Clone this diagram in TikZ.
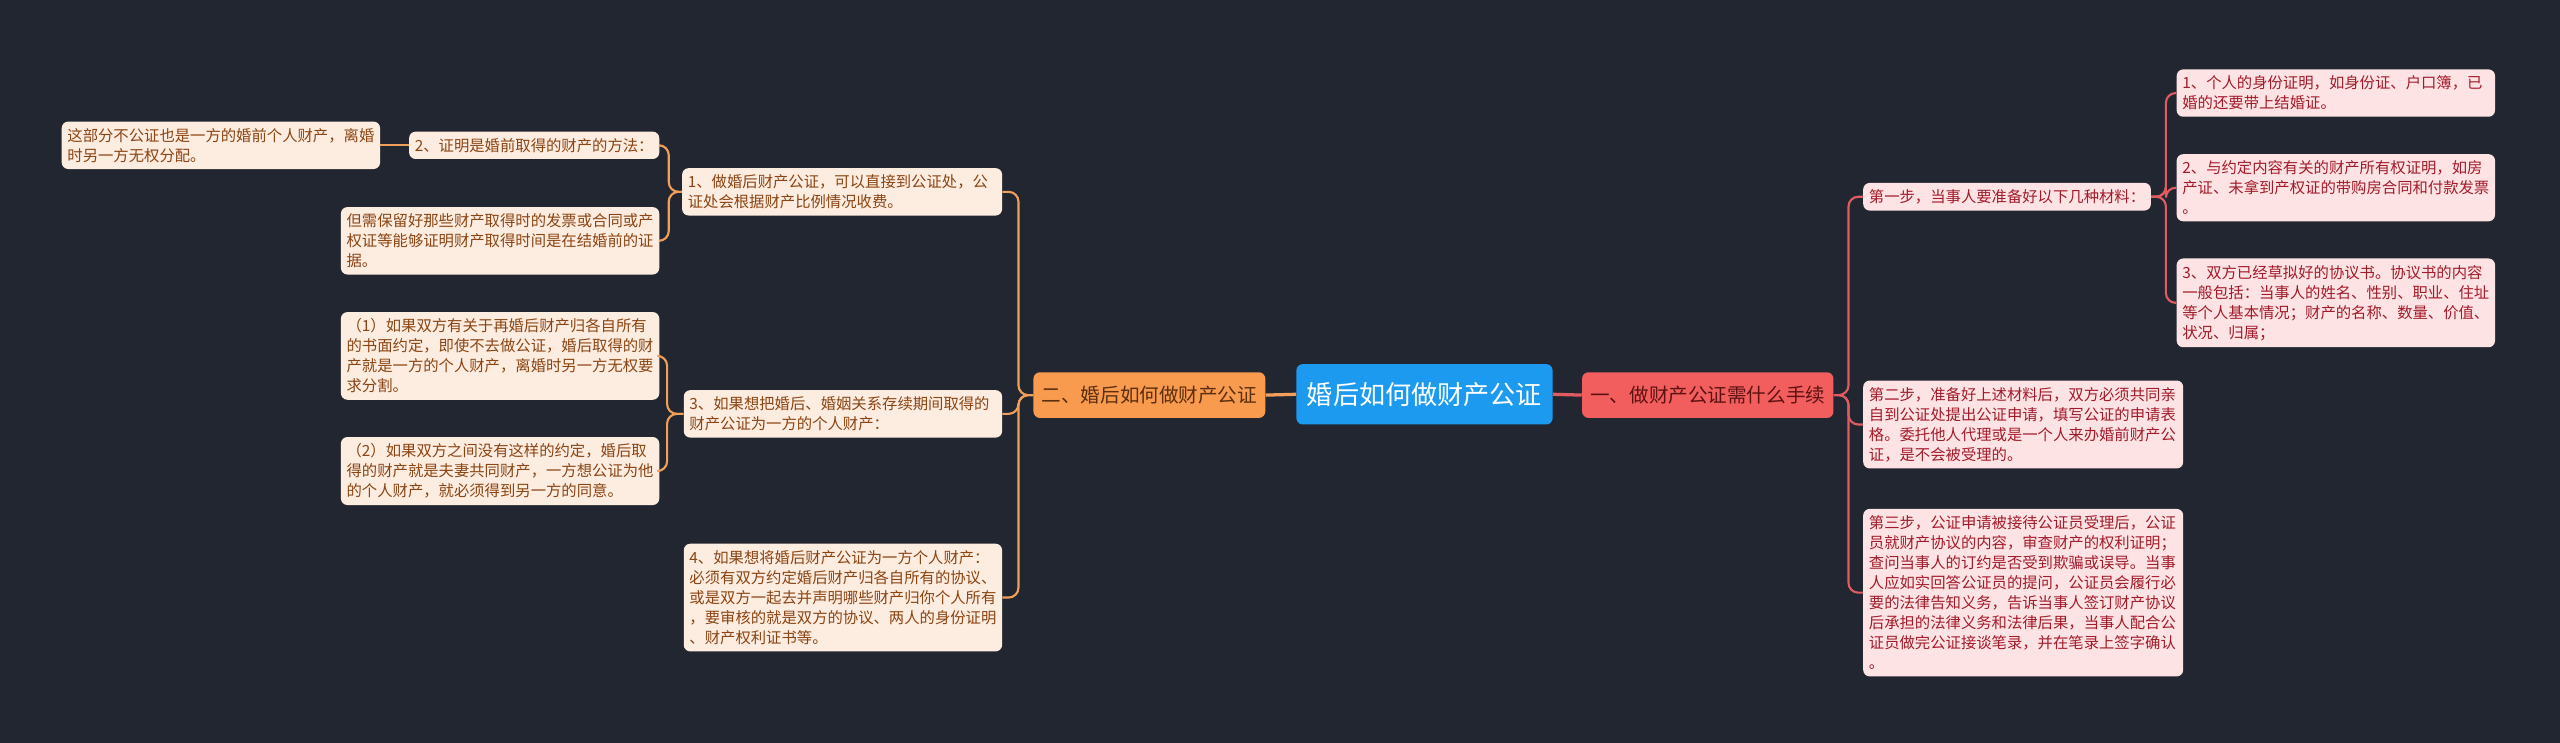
\documentclass[tikz,border=0pt]{standalone}
\usepackage{fontspec}
\newfontfamily\cjk{Noto Sans CJK SC}
\definecolor{bgc}{HTML}{222630}
\definecolor{bluec}{HTML}{1C9AF0}
\definecolor{redc}{HTML}{F25E5E}
\definecolor{redtxt}{HTML}{5E1111}
\definecolor{orangec}{HTML}{F99B4F}
\definecolor{orangetxt}{HTML}{5B2E0E}
\definecolor{pinkfill}{HTML}{FDE3E3}
\definecolor{pinktxt}{HTML}{A31B2A}
\definecolor{creamfill}{HTML}{FDECE0}
\definecolor{creamtxt}{HTML}{8B4513}
\definecolor{redln}{HTML}{E05B62}
\definecolor{orangeln}{HTML}{F0A05A}
\tikzset{
  smallfont/.style={font=\cjk\fontsize{9.4}{12.3}\selectfont},
  pinkbox/.style={smallfont, fill=pinkfill, text=pinktxt, rounded corners=4pt, inner xsep=3.5pt, inner ysep=4pt, align=left},
  creambox/.style={smallfont, fill=creamfill, text=creamtxt, rounded corners=4pt, inner xsep=3.5pt, inner ysep=4pt, align=left},
  mainbox/.style={font=\cjk\fontsize{12}{14}\selectfont, rounded corners=4pt, minimum height=28pt, inner sep=0pt},
  centerbox/.style={font=\cjk\fontsize{16}{19}\selectfont, fill=bluec, text=white, rounded corners=4pt, minimum width=157pt, minimum height=37pt, inner sep=0pt},
  redline/.style={draw=redln, line width=1.3pt, rounded corners=6pt},
  orangeline/.style={draw=orangeln, line width=1.3pt, rounded corners=6pt},
}
\begin{document}
\begin{tikzpicture}[x=1pt,y=-1pt]
\fill[bgc] (0,0) rectangle (1568,455);
\useasboundingbox (0,0) rectangle (1568,455);

% center and main branches
\node[centerbox] (c) at (872.5,241.5) {婚后如何做财产公证};
\node[mainbox, fill=redc, text=redtxt, minimum width=154pt] (rm) at (1046,242) {一、做财产公证需什么手续};
\node[mainbox, fill=orangec, text=orangetxt, minimum width=142pt] (lm) at (704,242) {二、婚后如何做财产公证};

% right side
\node[pinkbox, anchor=west] (r1) at (1141,120.5) {第一步，当事人要准备好以下几种材料：};
\node[pinkbox, anchor=west, text width=188pt] (r11) at (1333,57) {1、个人的身份证明，如身份证、户口簿，已\\婚的还要带上结婚证。};
\node[pinkbox, anchor=west, text width=188pt] (r12) at (1333,115) {2、与约定内容有关的财产所有权证明，如房\\产证、未拿到产权证的带购房合同和付款发票\\。};
\node[pinkbox, anchor=west, text width=188pt] (r13) at (1333,185.5) {3、双方已经草拟好的协议书。协议书的内容\\一般包括：当事人的姓名、性别、职业、住址\\等个人基本情况；财产的名称、数量、价值、\\状况、归属；};
\node[pinkbox, anchor=west, text width=189pt] (r2) at (1141,260) {第二步，准备好上述材料后，双方必须共同亲\\自到公证处提出公证申请，填写公证的申请表\\格。委托他人代理或是一个人来办婚前财产公\\证，是不会被受理的。};
\node[pinkbox, anchor=west, text width=189pt] (r3) at (1141,363) {第三步，公证申请被接待公证员受理后，公证\\员就财产协议的内容，审查财产的权利证明；\\查问当事人的订约是否受到欺骗或误导。当事\\人应如实回答公证员的提问，公证员会履行必\\要的法律告知义务，告诉当事人签订财产协议\\后承担的法律义务和法律后果，当事人配合公\\证员做完公证接谈笔录，并在笔录上签字确认\\。};

% left side
\node[creambox, anchor=east, text width=189pt] (d) at (614,117.5) {1、做婚后财产公证，可以直接到公证处，公\\证处会根据财产比例情况收费。};
\node[creambox, anchor=east, text width=188pt] (g) at (614,253.5) {3、如果想把婚后、婚姻关系存续期间取得的\\财产公证为一方的个人财产：};
\node[creambox, anchor=east, text width=188pt] (h) at (614,366) {4、如果想将婚后财产公证为一方个人财产：\\必须有双方约定婚后财产归各自所有的协议、\\或是双方一起去并声明哪些财产归你个人所有\\，要审核的就是双方的协议、两人的身份证明\\、财产权利证书等。};
\node[creambox, anchor=east] (b) at (404,89) {2、证明是婚前取得的财产的方法：};
\node[creambox, anchor=east, text width=188pt] (c2) at (404,147.5) {但需保留好那些财产取得时的发票或合同或产\\权证等能够证明财产取得时间是在结婚前的证\\据。};
\node[creambox, anchor=east, text width=188pt] (a) at (233,89) {这部分不公证也是一方的婚前个人财产，离婚\\时另一方无权分配。};
\node[creambox, anchor=east, text width=188pt] (e) at (404,218) {（1）如果双方有关于再婚后财产归各自所有\\的书面约定，即使不去做公证，婚后取得的财\\产就是一方的个人财产，离婚时另一方无权要\\求分割。};
\node[creambox, anchor=east, text width=188pt] (f) at (404,288.5) {（2）如果双方之间没有这样的约定，婚后取\\得的财产就是夫妻共同财产，一方想公证为他\\的个人财产，就必须得到另一方的同意。};

% connectors center
\draw[draw=redln, line width=2pt] (c.east) -- (rm.west);
\draw[draw=orangeln, line width=2pt] (c.west) -- (lm.west -| lm.east);

% right connectors
\draw[redline] (rm.east) -- ++(9,0) |- (r1.west);
\draw[redline] (rm.east) -- ++(9,0) |- (r2.west);
\draw[redline] (rm.east) -- ++(9,0) |- (r3.west);
\draw[redline] (r1.east) -- ++(9,0) |- (r11.west);
\draw[redline] (r1.east) -- ++(9,0) |- (r12.west);
\draw[redline] (r1.east) -- ++(9,0) |- (r13.west);

% left connectors
\draw[orangeline] (lm.west) -- ++(-9,0) |- (d.east);
\draw[orangeline] (lm.west) -- ++(-9,0) |- (g.east);
\draw[orangeline] (lm.west) -- ++(-9,0) |- (h.east);
\draw[orangeline] (d.west) -- ++(-8,0) |- (b.east);
\draw[orangeline] (d.west) -- ++(-8,0) |- (c2.east);
\draw[orangeline] (g.west) -- ++(-10,0) |- (e.east);
\draw[orangeline] (g.west) -- ++(-10,0) |- (f.east);
\draw[orangeline] (b.west) -- (a.east);
\end{tikzpicture}
\end{document}
